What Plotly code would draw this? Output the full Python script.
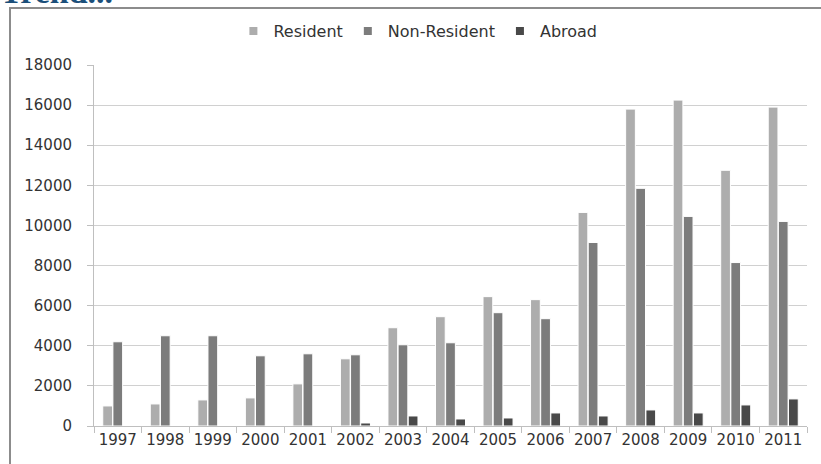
import plotly.graph_objects as go

years = ["1997", "1998", "1999", "2000", "2001", "2002", "2003", "2004",
         "2005", "2006", "2007", "2008", "2009", "2010", "2011"]
resident = [1000, 1100, 1300, 1400, 2100, 3350, 4900, 5450,
            6450, 6300, 10650, 15800, 16250, 12750, 15900]
non_resident = [4200, 4500, 4500, 3500, 3600, 3550, 4050, 4150,
                5650, 5350, 9150, 11850, 10450, 8150, 10200]
abroad = [0, 0, 0, 0, 0, 150, 500, 350,
          400, 650, 500, 800, 650, 1050, 1350]
y_ticks = [0, 2000, 4000, 6000, 8000, 10000, 12000, 14000, 16000, 18000]

W, H = 821, 464
font_family = "DejaVu Sans"
text_color = "#333333"

series = [("Resident", resident, "#ADADAD"),
          ("Non-Resident", non_resident, "#7C7C7C"),
          ("Abroad", abroad, "#494949")]

fig = go.Figure()
for name, vals, col in series:
    fig.add_trace(go.Bar(x=years, y=vals, name=name, showlegend=False,
                         marker=dict(color=col, line=dict(color="white", width=1))))
# legend entries with small square keys
for name, vals, col in series:
    fig.add_trace(go.Scatter(x=[None], y=[None], mode="markers", name=name,
                             marker=dict(symbol="square", size=8, color=col)))

fig.update_layout(
    width=W, height=H,
    margin=dict(l=0, r=0, t=0, b=0),
    paper_bgcolor="white", plot_bgcolor="white",
    barmode="group", bargap=0.36, bargroupgap=0.04,
    font=dict(family=font_family, size=14, color=text_color),
    showlegend=True,
    legend=dict(orientation="h", x=0.509, xanchor="center", y=(H - 31) / H, yanchor="middle",
                font=dict(size=16, color=text_color), itemwidth=30, traceorder="normal"),
    xaxis=dict(domain=[94 / W, 807 / W], automargin=False, tickangle=0,
               showline=True, linecolor="#BFBFBF", linewidth=1,
               ticks="outside", tickson="boundaries", ticklen=6, tickcolor="#BFBFBF",
               tickfont=dict(size=15, color=text_color), showgrid=False),
    yaxis=dict(domain=[(H - 426) / H, (H - 65) / H], automargin=False,
               range=[0, 18000], tickvals=y_ticks, ticktext=[str(v) for v in y_ticks],
               showline=True, linecolor="#BFBFBF", linewidth=1,
               ticks="outside", ticklen=6, tickcolor="#BFBFBF", ticklabelstandoff=12,
               showgrid=True, gridcolor="#D0D0D0", gridwidth=1, zeroline=False,
               tickfont=dict(size=15, color=text_color)),
    shapes=[dict(type="rect", xref="paper", yref="paper",
                 x0=10 / W, x1=1.05, y0=-0.1, y1=(H - 8) / H,
                 line=dict(color="#8C8C8C", width=2), fillcolor="rgba(0,0,0,0)", layer="below")],
    annotations=[dict(text="<b>Trend...</b>", xref="paper", yref="paper",
                      x=-2 / W, y=(H - 12) / H, xanchor="left", yanchor="bottom",
                      showarrow=False,
                      font=dict(family="Liberation Serif", size=34, color="#1B4F7A"))],
)

fig.write_html("out.html")
